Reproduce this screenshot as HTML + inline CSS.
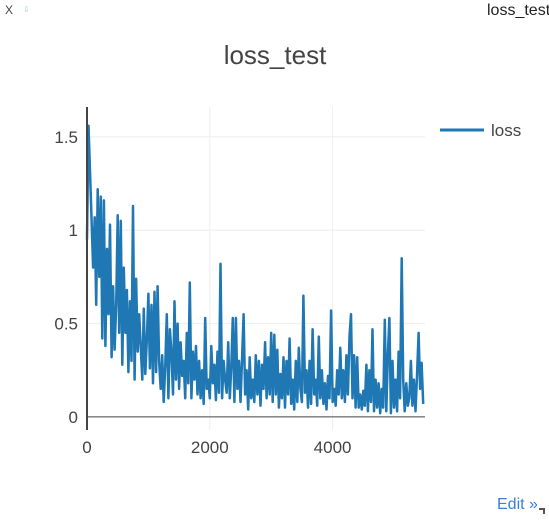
<!DOCTYPE html>
<html><head><meta charset="utf-8"><style>
body{margin:0;width:549px;height:520px;background:#fff;overflow:hidden;font-family:"Liberation Sans",sans-serif;}
</style></head><body>
<svg id="chart" width="549" height="520" xmlns="http://www.w3.org/2000/svg">
<text x="5" y="14" font-size="12" fill="#444">X</text>
<text x="23" y="12" font-size="8" fill="#9cd">⇩</text>
<text x="487" y="15" font-size="16" fill="#222">loss_test</text>
<text x="275" y="64" font-size="26" fill="#444" text-anchor="middle">loss_test</text>
<g id="grid"></g>
<g id="series"></g>
<g id="axes"></g>
<g>
<line x1="440" y1="130" x2="484" y2="130" stroke="#1f77b4" stroke-width="3"/>
<text x="491" y="136" font-size="17" fill="#444">loss</text>
</g>
<text x="497" y="509" font-size="16" fill="#3d7ddb">Edit »</text>
<path d="M539 509 L544 509 L544 514" stroke="#555" stroke-width="2" fill="none"/>
</svg>
<script>
const xTicks=[0,2000,4000];
const yTicks=[0,0.5,1,1.5];
const yTickLabels=["0","0.5","1","1.5"];
const stepStart=0;
const stepSize=25;
const lossValues=[
0.95,1.56,1.3,1.05,0.8,1.07,0.6,1.22,0.75,1.18,
0.42,1.16,0.38,0.9,0.55,1.03,0.32,0.7,0.36,0.6,
1.08,0.45,1.05,0.28,0.8,0.45,0.68,0.24,0.62,0.3,
1.13,0.2,0.74,0.35,0.55,0.38,0.2,0.58,0.23,0.42,
0.66,0.26,0.6,0.18,0.67,0.24,0.7,0.3,0.15,0.33,
0.08,0.28,0.55,0.1,0.47,0.35,0.12,0.62,0.2,0.5,
0.15,0.4,0.22,0.3,0.1,0.45,0.18,0.72,0.1,0.35,
0.2,0.38,0.12,0.3,0.1,0.25,0.07,0.53,0.15,0.2,
0.1,0.38,0.18,0.28,0.09,0.35,0.13,0.82,0.1,0.3,
0.2,0.13,0.4,0.1,0.27,0.53,0.08,0.53,0.15,0.3,
0.08,0.3,0.55,0.12,0.25,0.04,0.32,0.1,0.2,0.08,
0.33,0.12,0.3,0.06,0.28,0.15,0.4,0.1,0.32,0.12,
0.45,0.08,0.44,0.12,0.36,0.05,0.23,0.1,0.32,0.05,
0.3,0.12,0.42,0.07,0.2,0.04,0.3,0.08,0.37,0.15,
0.08,0.65,0.13,0.25,0.05,0.3,0.07,0.47,0.12,0.2,
0.06,0.43,0.1,0.25,0.07,0.18,0.04,0.22,0.1,0.57,
0.08,0.15,0.06,0.25,0.12,0.37,0.1,0.25,0.08,0.33,
0.12,0.43,0.55,0.1,0.33,0.05,0.32,0.05,0.12,0.04,
0.14,0.06,0.28,0.03,0.25,0.08,0.47,0.03,0.2,0.05,
0.18,0.02,0.15,0.05,0.52,0.03,0.34,0.53,0.02,0.3,
0.05,0.2,0.03,0.35,0.1,0.85,0.2,0.03,0.18,0.06,
0.1,0.3,0.06,0.2,0.03,0.22,0.45,0.15,0.29,0.07
];
const NS="http://www.w3.org/2000/svg";
const L=87,R=425,T=107,B=430;
const xMin=0,xMax=5505,yMin=-0.07,yMax=1.66;
function xs(v){return L+(v-xMin)/(xMax-xMin)*(R-L);}
function ys(v){return B-(v-yMin)/(yMax-yMin)*(B-T);}
function mk(tag,attrs,parent){const e=document.createElementNS(NS,tag);for(const k in attrs)e.setAttribute(k,attrs[k]);parent.appendChild(e);return e;}
const grid=document.getElementById('grid'),axes=document.getElementById('axes'),series=document.getElementById('series');
xTicks.forEach(t=>{
  if(t!==0){const g=mk('line',{x1:xs(t),x2:xs(t),y1:T,y2:B,stroke:'#eee','stroke-width':1},grid);
  
  }
  const tx=mk('text',{x:xs(t),y:453,'font-size':17,fill:'#444','text-anchor':'middle'},axes);
  tx.textContent=String(t);
  
  
});
yTicks.forEach((t,i)=>{
  if(t!==0){const g=mk('line',{x1:L,x2:R,y1:ys(t),y2:ys(t),stroke:'#eee','stroke-width':1},grid);
  
  }
  const tx=mk('text',{x:78,y:ys(t)+6,'font-size':17,fill:'#444','text-anchor':'end'},axes);
  tx.textContent=yTickLabels[i];
  
  
});
const zl=mk('line',{x1:L,x2:R,y1:ys(0),y2:ys(0),stroke:'#444','stroke-width':1},axes);


const ya=mk('line',{x1:L,x2:L,y1:T,y2:B,stroke:'#444','stroke-width':2},axes);


const pts=lossValues.map((v,i)=>xs(stepStart+i*stepSize).toFixed(1)+','+ys(v).toFixed(1)).join(' ');
const pl=mk('polyline',{points:pts,fill:'none',stroke:'#1f77b4','stroke-width':2.5,'stroke-linejoin':'round'},series);


</script>
</body></html>
